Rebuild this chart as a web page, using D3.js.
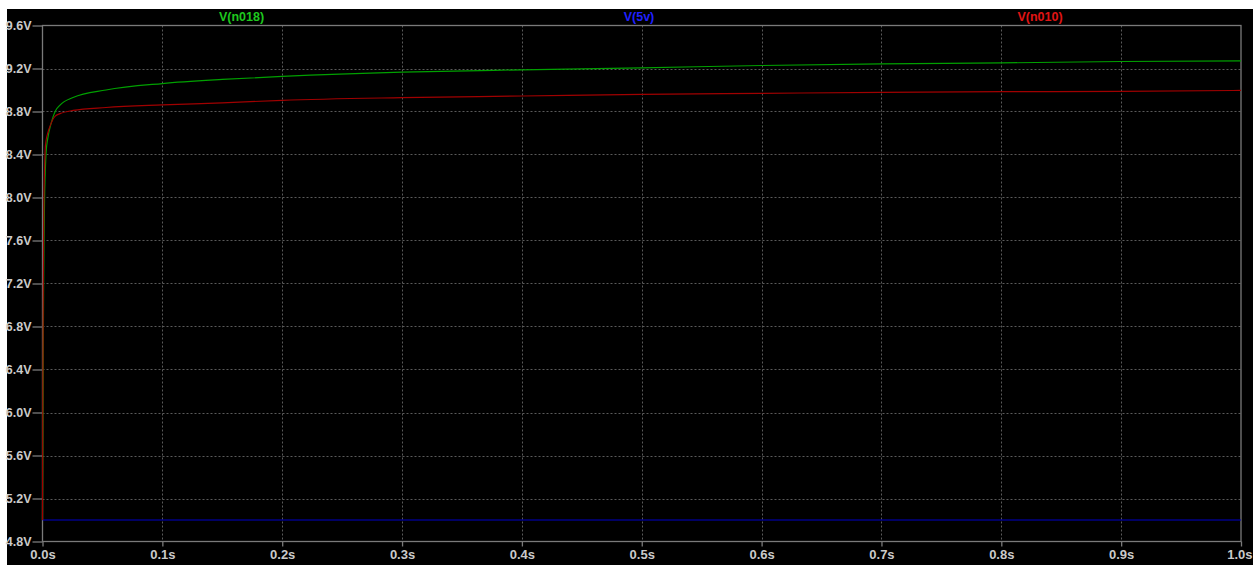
<!DOCTYPE html>
<html>
<head>
<meta charset="utf-8">
<script src="https://cdn.jsdelivr.net/npm/d3@7"></script>
<style>
  html, body { margin: 0; padding: 0; background: #ffffff; }
  svg { display: block; }
</style>
</head>
<body>
<svg id="chart" width="1253" height="565"></svg>
<script>
// ---- data ----
const time = [0, 0.0003, 0.0006, 0.0009, 0.0012, 0.0017, 0.0022, 0.003, 0.0044, 0.0072, 0.0088, 0.011, 0.0146, 0.0255, 0.053, 0.1, 0.15, 0.2, 0.3, 0.4, 0.5, 0.6, 0.7, 0.8, 0.9, 1.0];
const vN018 = [5.0, 5.7, 6.5, 7.1, 7.55, 7.98, 8.2, 8.42, 8.55, 8.69, 8.75, 8.81, 8.86, 8.93, 9.0, 9.06, 9.098, 9.126, 9.166, 9.188, 9.206, 9.228, 9.243, 9.252, 9.265, 9.271];
const vN010 = [5.0, 6.2, 7.0, 7.6, 8.0, 8.25, 8.44, 8.53, 8.6, 8.69, 8.73, 8.76, 8.78, 8.81, 8.837, 8.861, 8.88, 8.904, 8.929, 8.944, 8.96, 8.969, 8.978, 8.984, 8.987, 8.996];
const time5v = [0, 1.0];
const v5v = [5.0, 5.0];
const yTicks = [4.8, 5.2, 5.6, 6.0, 6.4, 6.8, 7.2, 7.6, 8.0, 8.4, 8.8, 9.2, 9.6];
const xTicks = [0, 0.1, 0.2, 0.3, 0.4, 0.5, 0.6, 0.7, 0.8, 0.9, 1.0];
const traceNames = ["V(n018)", "V(5v)", "V(n010)"];

// ---- layout ----
const svg = d3.select("#chart");
const L = 42.5, R = 1241, T = 25.5, B = 541.5;
const x = d3.scaleLinear().domain([0, 1.0]).range([L, R]);
const y = d3.scaleLinear().domain([4.8, 9.6]).range([B, T]);

svg.append("rect").attr("x", 7).attr("y", 9).attr("width", 1253 - 7).attr("height", 565 - 9).attr("fill", "#000");

const font = "'Liberation Sans', Arial, sans-serif";
const axisColor = "#7a7a7a";
const labelColor = "#cacaca";

// grid
svg.append("g").selectAll("line").data(yTicks.slice(1, -1)).join("line")
  .attr("x1", L).attr("x2", R).attr("y1", d => Math.round(y(d)) + 0.5).attr("y2", d => Math.round(y(d)) + 0.5)
  .attr("stroke", "#5a5a5a").attr("stroke-dasharray", "2,2");
svg.append("g").selectAll("line").data(xTicks.slice(1, -1)).join("line")
  .attr("y1", T).attr("y2", B).attr("x1", d => Math.round(x(d)) + 0.5).attr("x2", d => Math.round(x(d)) + 0.5)
  .attr("stroke", "#5a5a5a").attr("stroke-dasharray", "2,2");

// frame
svg.append("rect").attr("x", L).attr("y", T).attr("width", R - L).attr("height", B - T)
  .attr("fill", "none").attr("stroke", axisColor).attr("stroke-width", 1.3);

// y axis
const yAxis = d3.axisLeft(y).tickValues(yTicks).tickSize(10).tickPadding(1).tickFormat(d => d3.format(".1f")(d) + "V");
const gy = svg.append("g").attr("transform", `translate(${L},0)`).call(yAxis);
gy.select(".domain").remove();
gy.selectAll("line").attr("stroke", axisColor).attr("stroke-width", 1.3);
gy.selectAll("text").attr("fill", labelColor).attr("font-family", font).attr("font-size", 12.5).attr("font-weight", "bold");

// x axis
const xAxis = d3.axisBottom(x).tickValues(xTicks).tickSize(5).tickPadding(3).tickFormat(d => d3.format(".1f")(d) + "s");
const gx = svg.append("g").attr("transform", `translate(0,${B})`).call(xAxis);
gx.select(".domain").remove();
gx.selectAll("line").attr("stroke", axisColor).attr("stroke-width", 1.3);
gx.selectAll("text").attr("fill", labelColor).attr("font-family", font).attr("font-size", 13).attr("font-weight", "bold");
// keep the last label inside the page edge
gx.selectAll(".tick").filter(d => d === 1.0).select("text")
  .attr("text-anchor", "end").attr("x", 1252 - x(1.0));

// traces
const line = d3.line().x(d => x(d[0])).y(d => y(d[1])).curve(d3.curveMonotoneX);
const traces = [
  { t: time5v, v: v5v, color: "#0000c8" },
  { t: time, v: vN018, color: "#00a000" },
  { t: time, v: vN010, color: "#a00000" }
];
svg.append("g").selectAll("path").data(traces).join("path")
  .attr("d", d => line(d.t.map((t, i) => [t, d.v[i]])))
  .attr("fill", "none").attr("stroke", d => d.color).attr("stroke-width", 1.2);

// header labels
const headers = [
  { name: traceNames[0], cx: 241.5, color: "#1ec81e" },
  { name: traceNames[1], cx: 639, color: "#2020ff" },
  { name: traceNames[2], cx: 1040, color: "#e01414" }
];
svg.append("g").selectAll("text").data(headers).join("text")
  .attr("x", d => d.cx).attr("y", 20.5).attr("text-anchor", "middle")
  .attr("fill", d => d.color).attr("font-family", font).attr("font-size", 12.5).attr("font-weight", "bold")
  .text(d => d.name);
</script>
</body>
</html>
